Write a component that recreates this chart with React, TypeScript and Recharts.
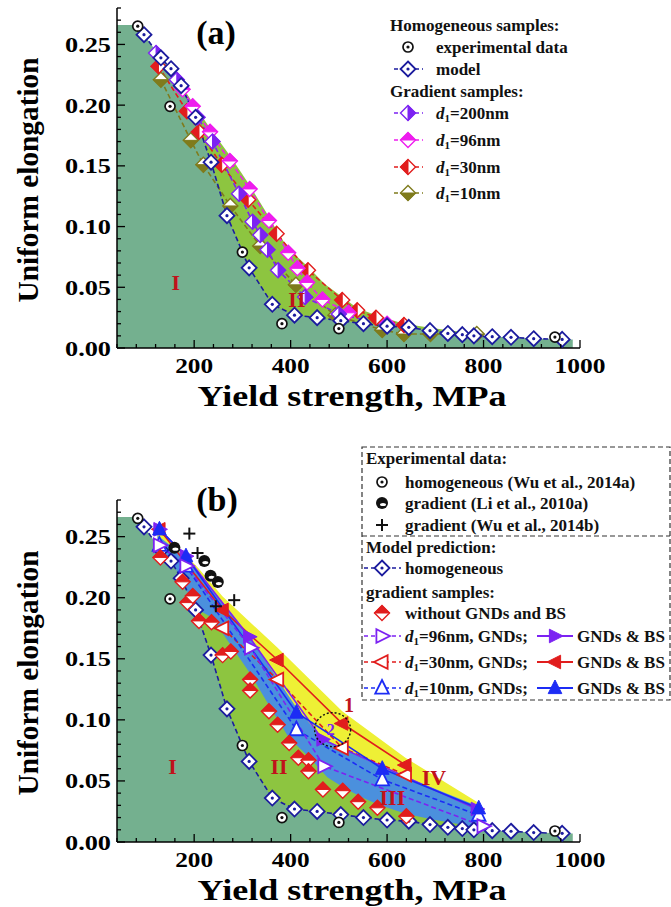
import React from 'react';
import {ComposedChart, Area, Line, Scatter, XAxis, YAxis, ReferenceDot} from 'recharts';

const FONT = '"Liberation Serif", "Times New Roman", serif';

// axis ticks (minor every 40 MPa / 0.01, labels on the major ones)
const xTicks = [40, 80, 120, 160, 200, 240, 280, 320, 360, 400, 440, 480, 520, 560, 600, 640, 680, 720, 760, 800, 840, 880, 920, 960, 1000];
const yTicks = [0, 0.01, 0.02, 0.03, 0.04, 0.05, 0.06, 0.07, 0.08, 0.09, 0.1, 0.11, 0.12, 0.13, 0.14, 0.15, 0.16, 0.17, 0.18, 0.19, 0.2, 0.21, 0.22, 0.23, 0.24, 0.25, 0.26, 0.27, 0.28];
const xLabels = [200, 400, 600, 800, 1000];

// homogeneous samples
const homExp = [[83, 0.265], [150, 0.199], [300, 0.079], [382, 0.02], [500, 0.016], [948, 0.009]];
const model = [[96, 0.258], [131, 0.239], [152, 0.23], [173, 0.216], [203, 0.19], [235, 0.153], [268, 0.109], [314, 0.066], [362, 0.036], [408, 0.027], [455, 0.025], [504, 0.0225], [551, 0.02], [600, 0.018], [645, 0.017], [689, 0.0143], [726, 0.012], [756, 0.011], [780, 0.01], [818, 0.0093], [857, 0.0088], [904, 0.0077], [963, 0.0071]];
const regionIStart = [[40, 0.266], [83, 0.266]];
const regionIEnd = [[985, 0.007]];

// panel (a) gradient samples
const g200 = [[121, 0.243], [164, 0.221], [207, 0.19], [238, 0.17], [293, 0.127], [321, 0.104], [337, 0.093], [352, 0.081], [374, 0.064], [430, 0.042], [500, 0.028], [600, 0.019]];
const g96 = [[176, 0.213], [197, 0.199], [233, 0.178], [274, 0.154], [315, 0.131], [355, 0.105], [395, 0.0785], [414, 0.0656], [434, 0.054], [466, 0.04], [520, 0.029], [600, 0.02]];
const g30 = [[126, 0.232], [185, 0.195], [210, 0.178], [257, 0.151], [312, 0.122], [371, 0.094], [436, 0.064], [507, 0.0395], [538, 0.031], [577, 0.025], [635, 0.019]];
const g10 = [[131, 0.221], [193, 0.171], [219, 0.151], [275, 0.117], [337, 0.084], [411, 0.052], [493, 0.027], [590, 0.0148], [635, 0.0115], [690, 0.0115], [786, 0.0115]];
const regionIIa = [[121, 0.245], [176, 0.215], [197, 0.202], [233, 0.181], [275, 0.158], [315, 0.134], [355, 0.108], [371, 0.097], [395, 0.082], [436, 0.067], [470, 0.053], [507, 0.042], [538, 0.033], [577, 0.027], [635, 0.02], [700, 0.016], [760, 0.013]];

// panel (b)
const expLi = [[159, 0.241], [221, 0.23], [234, 0.218], [249, 0.2128]];
const expWu = [[190, 0.2525], [207, 0.2366], [245, 0.193], [283, 0.198]];
const noGnd = [[130, 0.233], [176, 0.213], [186, 0.196], [197, 0.2015], [210, 0.181], [236, 0.18], [259, 0.153], [276, 0.156], [316, 0.133], [316, 0.124], [355, 0.107], [373, 0.096], [397, 0.081], [416, 0.069], [437, 0.067], [437, 0.058], [467, 0.043], [508, 0.042], [540, 0.033], [580, 0.028], [640, 0.021]];
const gnd96 = [[128, 0.243], [183, 0.226], [317, 0.159], [469, 0.062], [799, 0.013]];
const bs96 = [[128, 0.256], [183, 0.234], [314, 0.168], [466, 0.084], [786, 0.027]];
const gnd30 = [[259, 0.175], [373, 0.133], [507, 0.077], [638, 0.055]];
const bs30 = [[128, 0.256], [259, 0.19], [373, 0.149], [507, 0.097], [638, 0.063]];
const gnd10 = [[128, 0.243], [183, 0.226], [412, 0.092], [590, 0.051], [790, 0.022]];
const bs10 = [[128, 0.256], [183, 0.234], [412, 0.106], [590, 0.06], [790, 0.0276]];
const regionIV = [[124, 0.259], [207, 0.225], [259, 0.201], [373, 0.159], [507, 0.107], [638, 0.069], [786, 0.033]];
const regionIII = [[124, 0.251], [183, 0.233], [314, 0.169], [412, 0.11], [466, 0.085], [590, 0.061], [790, 0.029]];
const regionIIb = [[200, 0.192], [236, 0.184], [276, 0.161], [316, 0.138], [355, 0.112], [397, 0.085], [437, 0.07], [476, 0.053], [508, 0.045], [545, 0.037], [580, 0.031], [640, 0.023], [700, 0.018], [760, 0.014]];

const C = {
    navy: '#1b1b9e', violet: '#7c22f2', magenta: '#ee1cee', red: '#e11d1d', olive: '#7f7b1c', blue: '#1c2cf5',
    r1: '#74b08f', r2: '#8dc540', r3: '#4b90dd', r4: '#eef035', label: '#c1121b',
};

const pts = (a: number[][]) => a.map(([x, y]) => ({x, y}));
const regionI = pts([...regionIStart, ...model, ...regionIEnd]);

const Marker = ({kind, cx, cy, color}: {kind: string; cx?: number; cy?: number; color: string}) => {
    if (cx == null || cy == null) return null;
    const r = 7.5;
    const s = 8;
    const dia = `${cx},${cy - r} ${cx + r},${cy} ${cx},${cy + r} ${cx - r},${cy}`;
    const half: Record<string, string> = {
        L: `${cx},${cy - r} ${cx - r},${cy} ${cx},${cy + r}`,
        R: `${cx},${cy - r} ${cx + r},${cy} ${cx},${cy + r}`,
        T: `${cx - r},${cy} ${cx},${cy - r} ${cx + r},${cy}`,
        B: `${cx - r},${cy} ${cx},${cy + r} ${cx + r},${cy}`,
    };
    const tri: Record<string, string> = {
        R: `${cx + s},${cy} ${cx - s * 0.7},${cy - s * 0.85} ${cx - s * 0.7},${cy + s * 0.85}`,
        L: `${cx - s},${cy} ${cx + s * 0.7},${cy - s * 0.85} ${cx + s * 0.7},${cy + s * 0.85}`,
        U: `${cx},${cy - s} ${cx + s * 0.85},${cy + s * 0.7} ${cx - s * 0.85},${cy + s * 0.7}`,
    };
    if (kind === 'ring') return (
        <g>
            <circle cx={cx} cy={cy} r={5} fill="#fff" stroke="#111" strokeWidth={1.7}/>
            <circle cx={cx} cy={cy} r={1.6} fill="#111"/>
        </g>
    );
    if (kind === 'ball') return (
        <g>
            <circle cx={cx} cy={cy} r={6} fill="#111"/>
            <ellipse cx={cx + 1} cy={cy + 1.5} rx={3} ry={1.6} fill="#fff"/>
        </g>
    );
    if (kind === 'plus') return (
        <g stroke="#111" strokeWidth={2}>
            <line x1={cx - 6} x2={cx + 6} y1={cy} y2={cy}/>
            <line x1={cx} x2={cx} y1={cy - 6} y2={cy + 6}/>
        </g>
    );
    if (kind === 'dia') return (
        <g>
            <polygon points={dia} fill="#fff" stroke={color} strokeWidth={1.8}/>
            <circle cx={cx} cy={cy} r={1.6} fill={color}/>
        </g>
    );
    if (kind.startsWith('dia')) return (
        <g>
            <polygon points={dia} fill="#fff" stroke={color} strokeWidth={1.4}/>
            <polygon points={half[kind.slice(3)]} fill={color} stroke={color} strokeWidth={1}/>
        </g>
    );
    if (kind.startsWith('tri')) {
        const open = kind.endsWith('o');
        return <polygon points={tri[kind.charAt(3)]} fill={open ? '#fff' : color} stroke={color}
                        strokeWidth={open ? 1.8 : 1}/>;
    }
    return null;
};

const dotOf = (kind: string, color: string) => (p: any) => (
    <Marker key={`${kind}-${color}-${p.index}`} kind={kind} cx={p.cx} cy={p.cy} color={color}/>
);
const shapeOf = (kind: string, color: string) => (p: any) => <Marker kind={kind} cx={p.cx} cy={p.cy} color={color}/>;

const XTick = (props: any) => {
    const {x, y, payload} = props;
    const v = payload.value;
    const major = xLabels.includes(v);
    return (
        <g>
            <line x1={x} x2={x} y1={y} y2={y - (major ? 8 : 4)} stroke="#000" strokeWidth={1.3}/>
            {major && (
                <text x={x} y={y + 17} textAnchor="middle" dominantBaseline="central" fontSize={22} fontWeight={700}
                      fontFamily={FONT} textLength={String(v).length > 3 ? 51 : 38} lengthAdjust="spacingAndGlyphs">{v}</text>
            )}
        </g>
    );
};

const YTick = (props: any) => {
    const {x, y, payload} = props;
    const v = payload.value;
    const major = Math.round(v * 100) % 5 === 0;
    return (
        <g>
            <line x1={x} x2={x + (major ? 8 : 4)} y1={y} y2={y} stroke="#000" strokeWidth={1.3}/>
            {major && (
                <text x={x - 6} y={y} textAnchor="end" dominantBaseline="central" fontSize={22} fontWeight={700}
                      fontFamily={FONT} textLength={46} lengthAdjust="spacingAndGlyphs">{v.toFixed(2)}</text>
            )}
        </g>
    );
};

const axes = () => [
    <XAxis key="x" type="number" dataKey="x" domain={[40, 1000]} ticks={xTicks} interval={0} tick={XTick}
           tickLine={false} tickSize={0} tickMargin={0} height={60} allowDataOverflow
           axisLine={{stroke: '#000', strokeWidth: 1.5}}/>,
    <YAxis key="y" type="number" dataKey="y" domain={[0, 0.28]} ticks={yTicks} interval={0} tick={YTick}
           tickLine={false} tickSize={0} tickMargin={0} width={117} allowDataOverflow
           axisLine={{stroke: '#000', strokeWidth: 1.5}}/>,
];

const region = (name: string, x: number, y: number) => (
    <ReferenceDot key={name + x} x={x} y={y} r={1} fill="none" stroke="none"
                  label={{value: name, position: 'center', fill: C.label, fontSize: 22, fontWeight: 700, fontFamily: FONT}}/>
);

const area = (data: number[][], fill: string) => (
    <Area data={pts(data)} dataKey="y" type="linear" fill={fill} fillOpacity={1} stroke="none" dot={false}
          activeDot={false} isAnimationActive={false}/>
);

const line = (data: number[][], color: string, kind: string, dashed: boolean) => (
    <Line data={pts(data)} dataKey="y" type="linear" stroke={color} strokeWidth={1.6}
          strokeDasharray={dashed ? '5 3' : undefined} dot={dotOf(kind, color)} activeDot={false}
          isAnimationActive={false}/>
);

const PanelA = () => (
    <ComposedChart width={671} height={440} margin={{top: 8, right: 91, bottom: 32, left: 0}}>
        {axes()}
        {area(regionIIa, C.r2)}
        <Area data={regionI} dataKey="y" type="linear" fill={C.r1} fillOpacity={1} stroke="none" dot={false}
              activeDot={false} isAnimationActive={false}/>
        {line(g10, C.olive, 'diaB', true)}
        {line(g30, C.red, 'diaL', true)}
        {line(g96, C.magenta, 'diaT', true)}
        {line(g200, C.violet, 'diaR', true)}
        {line(model, C.navy, 'dia', true)}
        <Scatter data={pts(homExp)} dataKey="y" shape={shapeOf('ring', '#111')} isAnimationActive={false}/>
        {region('I', 162, 0.054)}
        {region('II', 413, 0.04)}
    </ComposedChart>
);

const PanelB = () => (
    <ComposedChart width={671} height={467} margin={{top: 60, right: 91, bottom: 5, left: 0}}>
        {axes()}
        {area(regionIV, C.r4)}
        {area(regionIII, C.r3)}
        {area(regionIIb, C.r2)}
        <Area data={regionI} dataKey="y" type="linear" fill={C.r1} fillOpacity={1} stroke="none" dot={false}
              activeDot={false} isAnimationActive={false}/>
        {line(model, C.navy, 'dia', true)}
        {line(gnd30, C.red, 'triLo', true)}
        {line(bs30, C.red, 'triL', false)}
        {line(gnd10, C.blue, 'triUo', true)}
        {line(bs96, C.violet, 'triR', false)}
        {line(bs10, C.blue, 'triU', false)}
        {line(gnd96, C.violet, 'triRo', true)}
        <Scatter data={pts(noGnd)} dataKey="y" shape={shapeOf('diaT', C.red)} isAnimationActive={false}/>
        <Scatter data={pts(homExp)} dataKey="y" shape={shapeOf('ring', '#111')} isAnimationActive={false}/>
        <Scatter data={pts(expLi)} dataKey="y" shape={shapeOf('ball', '#111')} isAnimationActive={false}/>
        <Scatter data={pts(expWu)} dataKey="y" shape={shapeOf('plus', '#111')} isAnimationActive={false}/>
        <ReferenceDot x={487} y={0.092} r={18}
                      shape={(p: any) => <ellipse cx={p.cx} cy={p.cy} rx={18} ry={17} fill="none" stroke="#111"
                                                  strokeWidth={1.4} strokeDasharray="2 2"/>}/>
        <ReferenceDot x={521} y={0.112} r={1} fill="none" stroke="none"
                      label={{value: '1', position: 'center', fill: C.label, fontSize: 20, fontWeight: 700, fontFamily: FONT}}/>
        <ReferenceDot x={483} y={0.092} r={1} fill="none" stroke="none"
                      label={{value: '2', position: 'center', fill: C.violet, fontSize: 16, fontWeight: 700, fontFamily: FONT}}/>
        {region('I', 155, 0.062)}
        {region('II', 376, 0.062)}
        {region('III', 611, 0.037)}
        {region('IV', 697, 0.053)}
    </ComposedChart>
);

const T = (props: any) => (
    <text fontFamily={FONT} fontWeight={700} fontSize={17} dominantBaseline="central" fill="#111" {...props}/>
);

const D1 = ({x, y, rest}: {x: number; y: number; rest: string}) => (
    <T x={x} y={y}>
        <tspan fontStyle="italic">d</tspan>
        <tspan fontSize={11} dy={5}>1</tspan>
        <tspan dy={-5}>{rest}</tspan>
    </T>
);

const legendA = [
    {label: '=200nm', color: C.violet, kind: 'diaR', y: 113},
    {label: '=96nm', color: C.magenta, kind: 'diaT', y: 140},
    {label: '=30nm', color: C.red, kind: 'diaL', y: 167},
    {label: '=10nm', color: C.olive, kind: 'diaB', y: 193},
];

const legendB = [
    {label: '=96nm, GNDs;', color: C.violet, open: 'triRo', full: 'triR', y: 636},
    {label: '=30nm, GNDs;', color: C.red, open: 'triLo', full: 'triL', y: 662},
    {label: '=10nm, GNDs;', color: C.blue, open: 'triUo', full: 'triU', y: 688},
];

const Overlay = () => (
    <svg width={671} height={907} style={{position: 'absolute', left: 0, top: 0, pointerEvents: 'none'}}>
        {/* panel titles */}
        <text x={216} y={32} textAnchor="middle" dominantBaseline="central" fontSize={34} fontWeight={700}
              fontFamily={FONT}>(a)</text>
        <text x={217} y={499} textAnchor="middle" dominantBaseline="central" fontSize={34} fontWeight={700}
              fontFamily={FONT}>(b)</text>

        {/* axis titles */}
        {[[395, 180], [889, 673]].map(([xt, yt]) => (
            <g key={xt}>
                <text x={352} y={xt} textAnchor="middle" dominantBaseline="central" fontSize={30} fontWeight={700}
                      fontFamily={FONT} textLength={309} lengthAdjust="spacingAndGlyphs">Yield strength, MPa</text>
                <text x={27} y={yt} transform={`rotate(-90 27 ${yt})`} textAnchor="middle" dominantBaseline="central"
                      fontSize={30} fontWeight={700} fontFamily={FONT} textLength={245}
                      lengthAdjust="spacingAndGlyphs">Uniform elongation</text>
            </g>
        ))}

        {/* legend (a) */}
        <T x={390} y={25}>Homogeneous samples:</T>
        <Marker kind="ring" cx={408} cy={47} color="#111"/>
        <T x={436} y={47}>experimental data</T>
        <line x1={394} x2={423} y1={69} y2={69} stroke={C.navy} strokeWidth={1.5} strokeDasharray="4 3"/>
        <Marker kind="dia" cx={408} cy={69} color={C.navy}/>
        <T x={436} y={69}>model</T>
        <T x={390} y={91}>Gradient samples:</T>
        {legendA.map((r) => (
            <g key={r.label}>
                <line x1={394} x2={423} y1={r.y} y2={r.y} stroke={r.color} strokeWidth={1.5} strokeDasharray="4 3"/>
                <Marker kind={r.kind} cx={408} cy={r.y} color={r.color}/>
                <D1 x={436} y={r.y} rest={r.label}/>
            </g>
        ))}

        {/* legend (b) */}
        <rect x={362} y={447} width={308} height={253} fill="none" stroke="#333" strokeWidth={1.2}
              strokeDasharray="5 3"/>
        <line x1={362} x2={670} y1={536} y2={536} stroke="#333" strokeWidth={1.2} strokeDasharray="5 3"/>
        <T x={366} y={458}>Experimental data:</T>
        <Marker kind="ring" cx={382} cy={482} color="#111"/>
        <T x={405} y={482}>homogeneous (Wu et al., 2014a)</T>
        <Marker kind="ball" cx={382} cy={503} color="#111"/>
        <T x={405} y={503}>gradient (Li et al., 2010a)</T>
        <Marker kind="plus" cx={382} cy={525} color="#111"/>
        <T x={405} y={525}>gradient (Wu et al., 2014b)</T>
        <T x={366} y={547}>Model prediction:</T>
        <line x1={364} x2={401} y1={568} y2={568} stroke={C.navy} strokeWidth={1.5} strokeDasharray="4 3"/>
        <Marker kind="dia" cx={382} cy={568} color={C.navy}/>
        <T x={405} y={568}>homogeneous</T>
        <T x={366} y={592}>gradient samples:</T>
        <Marker kind="diaT" cx={382} cy={613} color={C.red}/>
        <T x={405} y={613}>without GNDs and BS</T>
        {legendB.map((r) => (
            <g key={r.label}>
                <line x1={364} x2={401} y1={r.y} y2={r.y} stroke={r.color} strokeWidth={1.5} strokeDasharray="4 3"/>
                <Marker kind={r.open} cx={382} cy={r.y} color={r.color}/>
                <D1 x={405} y={r.y} rest={r.label}/>
                <line x1={537} x2={573} y1={r.y} y2={r.y} stroke={r.color} strokeWidth={1.8}/>
                <Marker kind={r.full} cx={555} cy={r.y} color={r.color}/>
                <T x={577} y={r.y}>GNDs &amp; BS</T>
            </g>
        ))}
    </svg>
);

export default function App() {
    return (
        <div style={{position: 'absolute', left: 0, top: 0, width: 671, height: 907, background: '#fff'}}>
            <div style={{position: 'absolute', left: 0, top: 0}}>
                <PanelA/>
            </div>
            <div style={{position: 'absolute', left: 0, top: 440}}>
                <PanelB/>
            </div>
            <Overlay/>
        </div>
    );
}
